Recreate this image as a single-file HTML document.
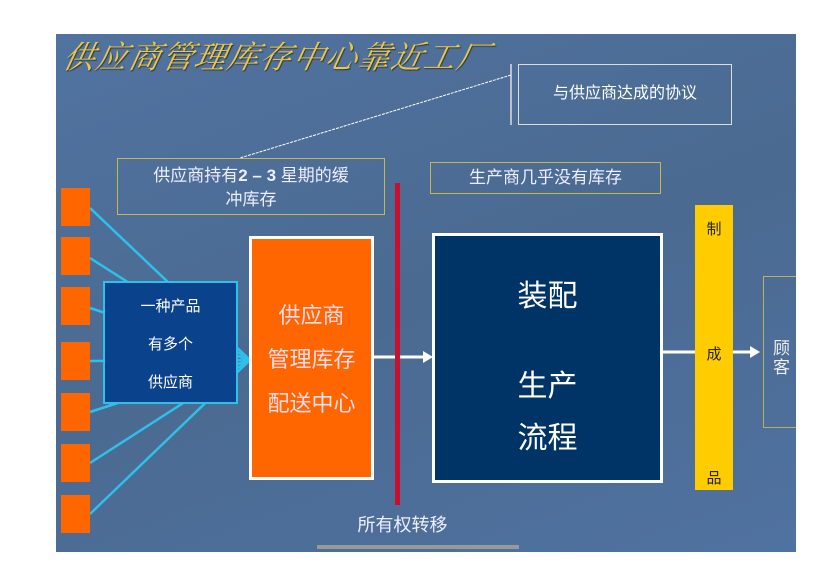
<!DOCTYPE html>
<html><head><meta charset="utf-8"><style>
body{margin:0;width:836px;height:586px;background:#fff;position:relative;overflow:hidden;font-family:"Liberation Sans","Noto Sans CJK SC",sans-serif}
.a{position:absolute;box-sizing:border-box}
.slide{left:56px;top:34px;width:740px;height:518px;background:linear-gradient(160deg,#5173a0 0%,#4a6a91 50%,#5072a0 100%)}
.t{color:#fff;text-align:center}
.sq{left:61px;width:29px;height:38px;background:#ff6600}
</style></head><body>
<div class="a slide"></div>
<div class="a" style="left:64px;top:33px;font-family:'Noto Serif CJK SC',serif;font-style:italic;font-size:31.5px;color:#e8c84a;letter-spacing:1.3px;text-shadow:1px 1px 1px #333;transform:skewX(-12deg)">供应商管理库存中心靠近工厂</div>
<svg class="a" style="left:0;top:0" width="836" height="586">
<g stroke="#2ec0ea" stroke-width="2.5">
<line x1="90" y1="208" x2="250" y2="360"/><line x1="90" y1="258" x2="250" y2="360"/>
<line x1="90" y1="308" x2="250" y2="360"/><line x1="90" y1="361" x2="250" y2="360"/>
<line x1="90" y1="412" x2="250" y2="360"/><line x1="90" y1="463" x2="250" y2="360"/>
<line x1="90" y1="514" x2="250" y2="360"/>
</g>
<line x1="511" y1="75" x2="240" y2="158" stroke="#fff" stroke-width="1" stroke-dasharray="3,1"/>
<line x1="511" y1="64" x2="511" y2="125" stroke="#ddd" stroke-width="1.5"/>
<line x1="372" y1="357" x2="425" y2="357" stroke="#fff" stroke-width="3"/>
<polygon points="423,351 433,357 423,363" fill="#fff"/>
<line x1="662" y1="352" x2="695" y2="352" stroke="#fff" stroke-width="3"/>
<line x1="733" y1="352" x2="752" y2="352" stroke="#fff" stroke-width="3"/>
<polygon points="750,346 760,352 750,358" fill="#fff"/>
</svg>
<div class="a sq" style="top:188px"></div><div class="a sq" style="top:237px"></div>
<div class="a sq" style="top:287px"></div><div class="a sq" style="top:342px"></div>
<div class="a sq" style="top:393px"></div><div class="a sq" style="top:444px"></div>
<div class="a sq" style="top:495px"></div>
<div class="a t" style="left:103px;top:281px;width:135px;height:123px;background:#0b428c;border:2px solid #2ec0ea;font-size:15px;line-height:38px;padding-top:5px">一种产品<br>有多个<br>供应商</div>
<div class="a t" style="left:249px;top:236px;width:125px;height:244px;background:#ff6600;border:3px solid #fff;font-size:22px;line-height:44px;padding-top:55px;color:#fde">供应商<br>管理库存<br>配送中心</div>
<div class="a" style="left:395px;top:183px;width:5px;height:322px;background:#c8102e"></div>
<div class="a t" style="left:432px;top:233px;width:231px;height:250px;background:#003366;border:3px solid #fff;font-size:30px"><div style="position:absolute;top:35px;width:100%">装配</div><div style="position:absolute;top:125px;width:100%;line-height:52px">生产<br>流程</div></div>
<div class="a" style="left:695px;top:205px;width:38px;height:285px;background:#ffcc00;font-size:15px;text-align:center;color:#222"><div style="position:absolute;top:13px;width:100%">制</div><div style="position:absolute;top:138px;width:100%">成</div><div style="position:absolute;top:262px;width:100%">品</div></div>
<div class="a" style="left:763px;top:276px;width:33px;height:152px;border:1.5px solid #b8b060;border-right:none;color:#eee;font-size:17px;line-height:19px;padding:62px 0 0 9px">顾<br>客</div>
<div class="a t" style="left:518px;top:64px;width:214px;height:61px;border:1.5px solid #ddd;font-size:16px;line-height:58px">与供应商达成的协议</div>
<div class="a t" style="left:117px;top:158px;width:268px;height:57px;border:1.5px solid #c8b84a;font-size:17px;line-height:24px;padding-top:5px;color:#eef">供应商持有<b>2 – 3</b> 星期的缓<br>冲库存</div>
<div class="a t" style="left:430px;top:162px;width:231px;height:32px;border:1.5px solid #c8b84a;font-size:17px;line-height:30px;color:#eef">生产商几乎没有库存</div>
<div class="a t" style="left:340px;top:511px;width:125px;font-size:18px;color:#eef">所有权转移</div>
<div class="a" style="left:317px;top:545px;width:202px;height:4px;background:#999"></div>
</body></html>
